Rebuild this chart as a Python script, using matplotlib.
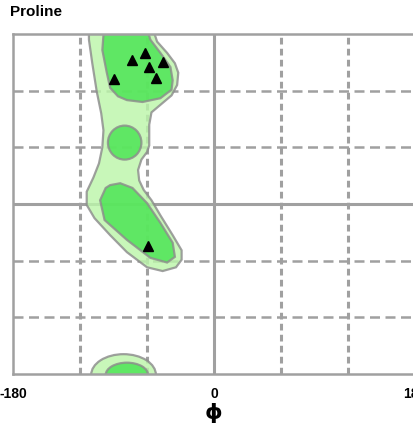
import matplotlib
matplotlib.use("Agg")
import matplotlib.pyplot as plt
from matplotlib.patches import Polygon, Ellipse

# ---- data (degrees) ----
title = "Proline"
xtick_vals = [-180, 0, 180]
xtick_labels = ["-180", "0", "180"]
grid_solid = [0]
grid_dashed = [-120, -60, 60, 120]

# favoured/allowed region outlines
outer_phi = [-56, -51, -42, -35, -32, -33, -38, -47, -56, -58, -58, -60, -65, -68, -67, -63,
             -56, -48, -37, -29, -29, -34, -46, -60, -78, -93, -107, -114, -114, -108,
             -103, -100, -99, -101, -105, -109, -112, -112]
outer_psi = [190, 172, 160, 149, 139, 126, 115, 106, 97, 84, 62, 55, 47, 36, 25, 15,
             4, -12, -33, -49, -59, -67, -71, -67, -51, -33, -15, -1, 13, 28,
             43, 60, 78, 96, 119, 149, 174, 190]

inner_top_phi = [-99, -99, -100, -96, -93, -86, -78, -64, -48, -38, -37, -39, -48, -57, -61]
inner_top_psi = [190, 179, 163, 139, 123, 114, 110, 108, 112, 121, 131, 145, 160, 174, 190]

inner_low_phi = [-84, -73, -60, -48, -37, -35, -42, -57, -78, -98, -102, -97, -93]
inner_low_psi = [22, 17, 1, -20, -41, -56, -62, -57, -38, -17, 4, 17, 20]

# small inner island: centre phi, psi, width, height
island = (-80, 65, 30, 36)
# wrapped region at psi = -180: centre phi, psi, width, height
bottom_outer = (-81, -181, 58, 44)
bottom_inner = (-78, -181, 38, 26)

pts_phi = [-90, -73, -62, -58, -46, -52, -59]
pts_psi = [132, 152, 160, 145, 150, 133, -44]

# ---- style ----
light = "#bcf6aa"
dark = "#48e451"
edge = "#8c8c8c"
gridc = "#a0a0a0"

W, H = 413, 428
fig = plt.figure(figsize=(W / 100, H / 100), dpi=100)
ax = fig.add_axes([13 / W, 54 / H, 402 / W, 340 / H])
ax.set_xlim(-180, 180)
ax.set_ylim(-180, 180)

# grid
for v in grid_dashed:
    ax.axvline(v, color=gridc, lw=2.2, dashes=(2.2, 1.4), zorder=1)
    ax.axhline(v, color=gridc, lw=1.8, dashes=(4, 2.2), zorder=1)
for v in grid_solid:
    ax.axvline(v, color=gridc, lw=2.2, zorder=1)
    ax.axhline(v, color=gridc, lw=2.2, zorder=1)

alpha = 0.82
ax.add_patch(Polygon(list(zip(outer_phi, outer_psi)), closed=True, facecolor=light,
                     edgecolor=edge, lw=1.6, alpha=alpha, zorder=2))
ax.add_patch(Ellipse(bottom_outer[:2], bottom_outer[2], bottom_outer[3], facecolor=light,
                     edgecolor=edge, lw=1.6, alpha=alpha, zorder=2))
ax.add_patch(Polygon(list(zip(inner_top_phi, inner_top_psi)), closed=True, facecolor=dark,
                     edgecolor=edge, lw=1.6, alpha=alpha, zorder=3))
ax.add_patch(Polygon(list(zip(inner_low_phi, inner_low_psi)), closed=True, facecolor=dark,
                     edgecolor=edge, lw=1.6, alpha=alpha, zorder=3))
ax.add_patch(Ellipse(island[:2], island[2], island[3], facecolor=dark,
                     edgecolor=edge, lw=1.6, alpha=alpha, zorder=3))
ax.add_patch(Ellipse(bottom_inner[:2], bottom_inner[2], bottom_inner[3], facecolor=dark,
                     edgecolor=edge, lw=1.6, alpha=alpha, zorder=3))

ax.plot(pts_phi, pts_psi, linestyle="none", marker="^", color="black", markersize=6.5, zorder=5)

for s in ["top", "left", "bottom", "right"]:
    ax.spines[s].set_color(gridc)
    ax.spines[s].set_linewidth(1.8)
    ax.spines[s].set_zorder(6)

ax.set_xticks(xtick_vals)
ax.set_xticklabels(xtick_labels, fontsize=10, fontweight="bold", family="Liberation Sans")
ax.tick_params(axis="x", length=0, pad=9)
ax.set_yticks([])
ax.set_xlabel("ϕ", fontsize=16, fontweight="bold", family="DejaVu Sans", labelpad=2)

fig.text(10 / W, 1 - 12 / H, title, fontsize=11, fontweight="bold", family="Liberation Sans",
         ha="left", va="center")

fig.savefig("out.png", dpi=100)
